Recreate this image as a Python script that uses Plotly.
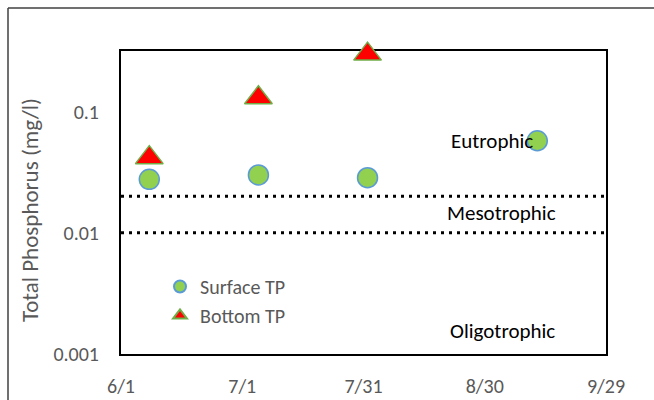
import plotly.graph_objects as go

# ---- data ----
surface_dates = ["2019-06-08", "2019-07-05", "2019-08-01", "2019-09-12"]
surface_tp = [0.0276, 0.030, 0.0285, 0.0575]
bottom_dates = ["2019-06-08", "2019-07-05", "2019-08-01"]
bottom_tp = [0.0417, 0.130, 0.298]

threshold_values = [0.01, 0.02]
x_range = ["2019-06-01", "2019-09-29"]
x_tick_vals = ["2019-06-01", "2019-07-01", "2019-07-31", "2019-08-30", "2019-09-29"]
x_tick_text = ["6/1", "7/1", "7/31", "8/30", "9/29"]
y_tick_vals = [0.001, 0.01, 0.1]
y_tick_text = ["0.001", "0.01", "0.1"]
zone_labels = ["Eutrophic", "Mesotrophic", "Oligotrophic"]

FONT = "Carlito, Calibri, Lato, sans-serif"
GRAY = "#595959"

W, H = 654, 400
L, R, T, B = 121, 48, 51, 46
PW, PH = W - L - R, H - T - B


def px(xp):
    return (xp - L) / PW


def py(yp):
    return (H - B - yp) / PH


fig = go.Figure()

# threshold dotted lines
for v in threshold_values:
    fig.add_trace(go.Scatter(
        x=x_range, y=[v, v], mode="lines",
        line=dict(color="black", width=3, dash="3px,5px"),
        showlegend=False, hoverinfo="skip"))

fig.add_trace(go.Scatter(
    x=surface_dates, y=surface_tp, mode="markers", name="Surface TP",
    marker=dict(symbol="circle", size=20, color="#92D050",
                line=dict(color="#5B9BD5", width=1.5)),
    cliponaxis=False))

fig.add_trace(go.Scatter(
    x=bottom_dates, y=bottom_tp, mode="markers", name="Bottom TP",
    marker=dict(symbol="triangle-up", size=24, color="#FF0000",
                line=dict(color="#70AD47", width=1.5)),
    cliponaxis=False))

# zone labels
zone_pos = [(491.5, 141), (501.5, 213), (502, 331)]
for txt, (xp, yp) in zip(zone_labels, zone_pos):
    fig.add_annotation(x=px(xp), y=py(yp), xref="paper", yref="paper",
                       xanchor="center", yanchor="middle",
                       text=txt, showarrow=False,
                       font=dict(family=FONT, size=21, color="black"))

# y axis title
fig.add_annotation(x=px(30), y=py(210), xref="paper", yref="paper",
                   xanchor="center", yanchor="middle",
                   text="Total Phosphorus (mg/l)", textangle=-90,
                   showarrow=False,
                   font=dict(family=FONT, size=23, color=GRAY))

# outer chart border (partially visible)
fig.add_shape(type="line", xref="paper", yref="paper",
              x0=px(8), x1=px(W + 20), y0=py(8), y1=py(8),
              line=dict(color="#404040", width=1.5))
fig.add_shape(type="line", xref="paper", yref="paper",
              x0=px(8), x1=px(8), y0=py(8), y1=py(H + 20),
              line=dict(color="#404040", width=1.5))

fig.update_layout(
    template="none",
    width=W, height=H,
    margin=dict(l=L, r=R, t=T, b=B, autoexpand=False),
    paper_bgcolor="white", plot_bgcolor="white",
    font=dict(family=FONT, size=20, color=GRAY),
    showlegend=True,
    legend=dict(x=px(160), y=py(267), xanchor="left", yanchor="top",
                bgcolor="rgba(0,0,0,0)", itemsizing="constant",
                font=dict(family=FONT, size=20, color=GRAY),
                tracegroupgap=0),
)

fig.update_xaxes(
    type="date", range=x_range, tickvals=x_tick_vals, ticktext=x_tick_text,
    showgrid=False, zeroline=False, showline=True, mirror=True,
    linecolor="black", linewidth=2, ticks="", ticklabelstandoff=13,
    automargin=False,
    tickfont=dict(family=FONT, size=20, color=GRAY), layer="below traces")

fig.update_yaxes(
    type="log", range=[-3, -0.5], tickvals=y_tick_vals, ticktext=y_tick_text,
    showgrid=False, zeroline=False, showline=True, mirror=True,
    linecolor="black", linewidth=2, ticks="", ticklabelstandoff=16,
    automargin=False,
    tickfont=dict(family=FONT, size=20, color=GRAY), layer="below traces")

fig.write_html("out.html",
               config={"displayModeBar": False},
               post_script="document.body.style.margin='0';"
                           "document.body.style.overflow='hidden';")
